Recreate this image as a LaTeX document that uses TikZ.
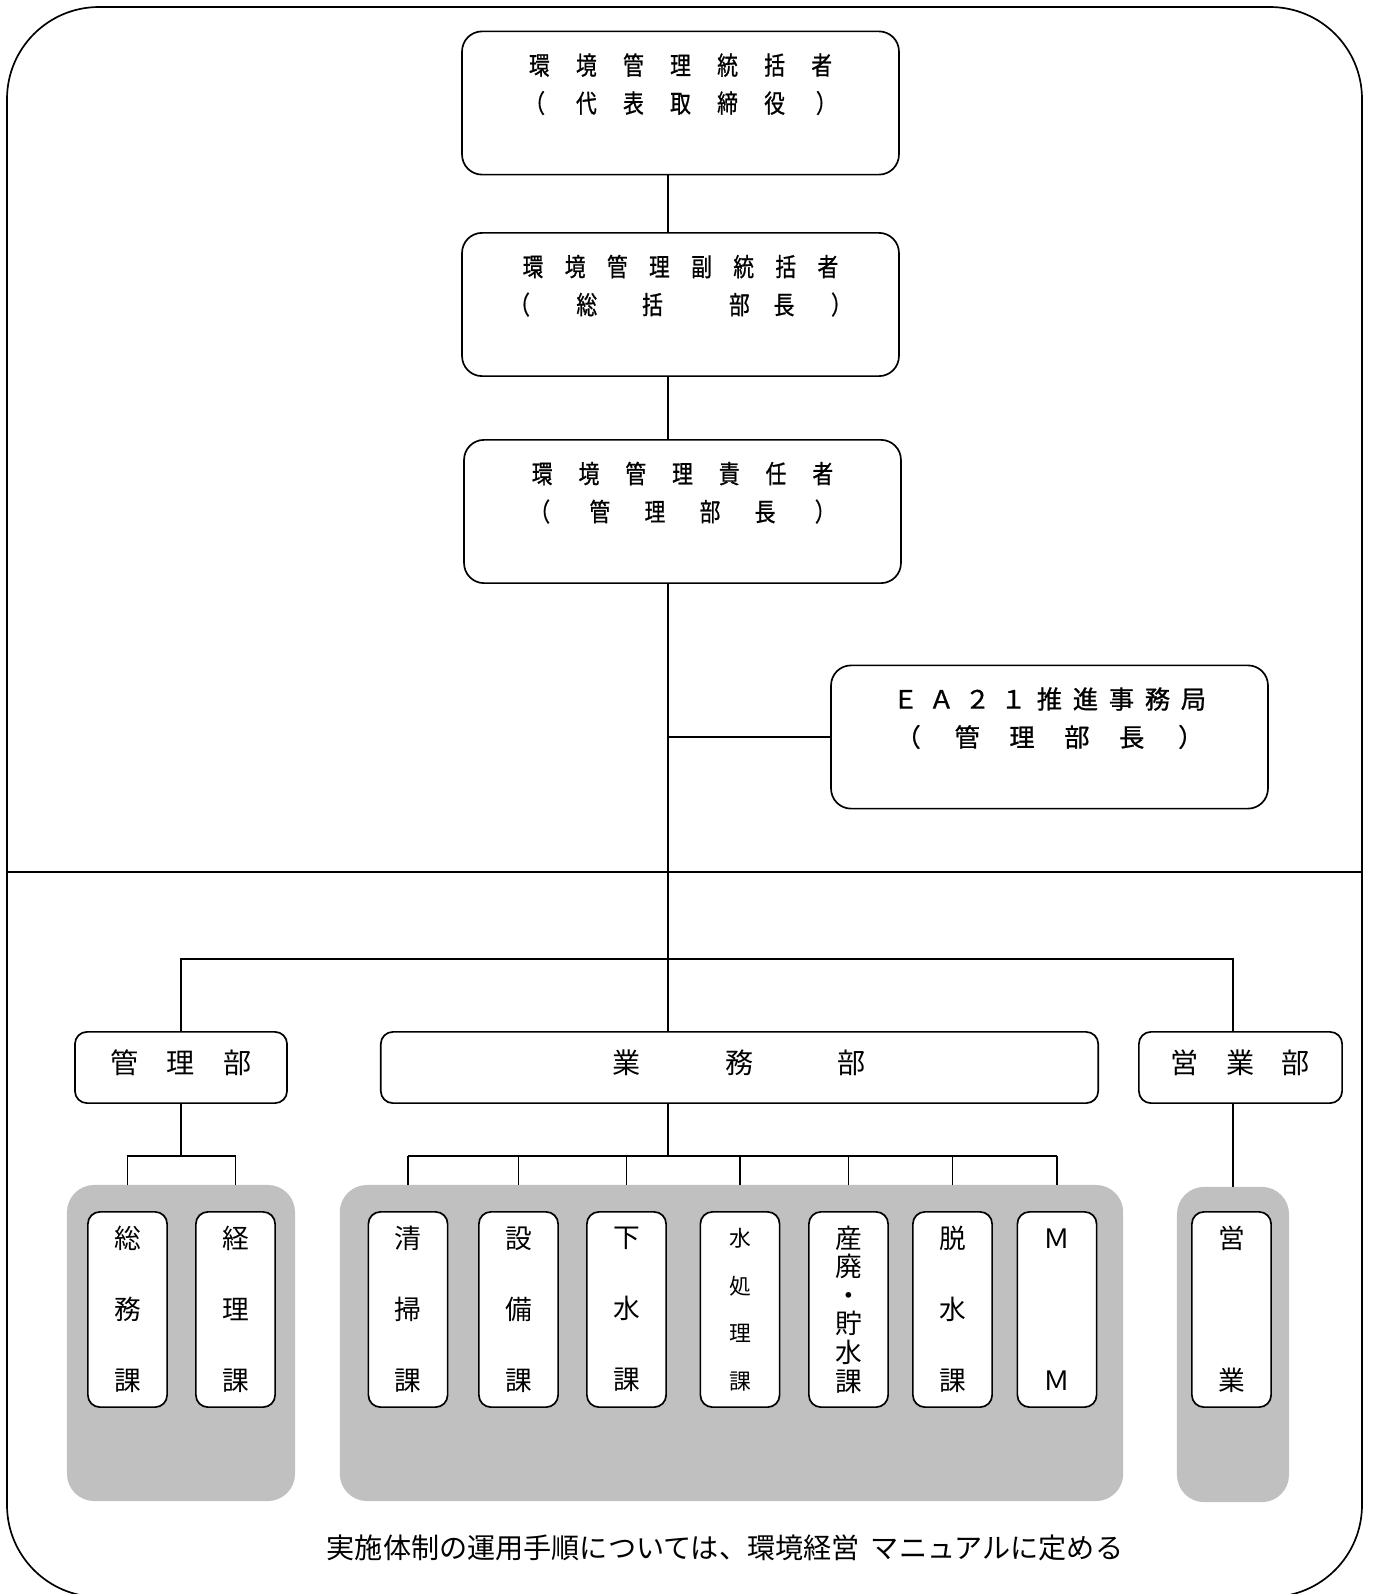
\documentclass[tikz,border=0pt]{standalone}
\usepackage{fontspec}
\usepackage{tikz}
\newfontfamily\jpfont{Noto Sans CJK JP}
\newfontfamily\jpnarrow[FakeStretch=0.82, FakeBold=0.8]{Noto Sans CJK JP}
\newfontfamily\jpheavy[FakeBold=0.8]{Noto Sans CJK JP}
\definecolor{panelgray}{HTML}{C0C0C0}

\begin{document}
\begin{tikzpicture}[x=0.025cm, y=-0.025cm,
  topbox/.style={rectangle, draw, line width=1.2pt, rounded corners=0.5cm, minimum width=10.92cm, minimum height=3.58cm},
  toptext/.style={anchor=north, inner xsep=0pt, inner ysep=16pt, align=center, font=\jpnarrow\fontsize{18}{27}\selectfont},
  eatext/.style={toptext, font=\jpheavy\fontsize{18}{27}\selectfont},
  deptbox/.style={rectangle, draw, line width=1.2pt, rounded corners=0.3cm, minimum height=1.78cm, text depth=8pt, font=\jpfont\fontsize{20}{24}\selectfont},
  unitbox/.style={rectangle, draw, fill=white, line width=1.2pt, rounded corners=0.3cm, minimum width=1.98cm, minimum height=4.88cm, inner sep=0pt, align=center, font=\jpfont\fontsize{19}{50.5}\selectfont},
  panel/.style={rectangle, fill=panelgray, rounded corners=0.68cm, inner sep=0pt},
  link/.style={line width=1pt}
]
  \useasboundingbox (0,0) rectangle (1373,1594);

  % frame and separator
  \draw[line width=1.2pt, rounded corners=2.3cm] (7,7) rectangle (1362,1597);
  \draw[link] (7,872) -- (1362,872);

  % top chain
  \node[topbox] (gen) at (680.5,103) {};
  \node[toptext] (gen-t) at (gen.north) {環\hspace{18.7pt}境\hspace{18.7pt}管\hspace{18.7pt}理\hspace{18.7pt}統\hspace{18.7pt}括\hspace{18.7pt}者\\
    （\hspace{22pt}代\hspace{18.7pt}表\hspace{18.7pt}取\hspace{18.7pt}締\hspace{18.7pt}役\hspace{22pt}）};
  \node[topbox] (vice) at (680.5,304.5) {};
  \node[toptext] (vice-t) at (vice.north) {環\hspace{15.2pt}境\hspace{15.2pt}管\hspace{15.2pt}理\hspace{15.2pt}副\hspace{15.2pt}統\hspace{15.2pt}括\hspace{15.2pt}者\\
    （\hspace{33pt}総\hspace{32pt}括\hspace{47pt}部\hspace{17pt}長\hspace{26pt}）};
  \node[topbox] (mgr) at (682.5,511.5) {};
  \node[toptext] (mgr-t) at (mgr.north) {環\hspace{18.5pt}境\hspace{18.5pt}管\hspace{18.5pt}理\hspace{18.5pt}責\hspace{18.5pt}任\hspace{18.5pt}者\\
    （\hspace{28pt}管\hspace{24.4pt}理\hspace{24.4pt}部\hspace{24.4pt}長\hspace{28pt}）};
  \node[topbox] (ea) at (1049.5,737) {};
  \node[eatext] (ea-t) at (ea.north) {Ｅ\hspace{7.6pt}Ａ\hspace{7.6pt}２\hspace{7.6pt}１\hspace{7.6pt}推\hspace{7.6pt}進\hspace{7.6pt}事\hspace{7.6pt}務\hspace{7.6pt}局\\
    （\hspace{24pt}管\hspace{21pt}理\hspace{21pt}部\hspace{21pt}長\hspace{24pt}）};

  % departments
  \node[deptbox, minimum width=5.3cm] (kanri) at (181,1067.5) {管\hspace{20pt}理\hspace{20pt}部};
  \node[deptbox, minimum width=17.93cm] (gyomu) at (739.5,1067.5) {業\hspace{60pt}務\hspace{60pt}部};
  \node[deptbox, minimum width=5.08cm] (eigyo) at (1240.5,1067.5) {営\hspace{19.5pt}業\hspace{19.5pt}部};

  % sections
  \node[panel, minimum width=5.7cm, minimum height=7.9cm] (p1) at (181,1343) {};
  \node[panel, minimum width=19.58cm, minimum height=7.9cm] (p2) at (731.5,1343) {};
  \node[panel, minimum width=2.8cm, minimum height=7.88cm] (p3) at (1233,1344.5) {};

  \node[unitbox] (soumu) at (127.5,1309.5) {総\\務\\課};
  \node[unitbox] (keiri) at (235.5,1309.5) {経\\理\\課};
  \node[unitbox] (seisou) at (408,1309.5) {清\\掃\\課};
  \node[unitbox] (setsubi) at (518.5,1309.5) {設\\備\\課};
  \node[unitbox] (gesui) at (626.5,1309.5) {下\\水\\課};
  \node[unitbox, font=\jpfont\fontsize{15.5}{33.8}\selectfont] (mizu) at (740,1309.5) {水\\処\\理\\課};
  \node[unitbox, font=\jpfont\fontsize{19}{20.3}\selectfont] (sanpai) at (848.5,1309.5) {産\\廃\\・\\貯\\水\\課};
  \node[unitbox] (dassui) at (952.5,1309.5) {脱\\水\\課};
  \node[unitbox, font=\jpfont\fontsize{19}{101}\selectfont] (mm) at (1057,1309.5) {Ｍ\\Ｍ};
  \node[unitbox, font=\jpfont\fontsize{19}{101}\selectfont] (eigyou) at (1231.5,1309.5) {営\\業};

  % connectors
  \coordinate (spine) at (668,0);
  \coordinate (dbar) at (668,959);
  \coordinate (kbar) at (181,1156);
  \coordinate (gbar) at (668,1156);
  \draw[link] (gen.south -| spine) -- (vice.north -| spine);
  \draw[link] (vice.south -| spine) -- (mgr.north -| spine);
  \draw[link] (mgr.south -| spine) -- (gyomu.north -| spine);
  \draw[link] (ea.west) -- (ea.west -| spine);
  \draw[link] (kanri.north) |- (dbar) -| (eigyo.north -| p3.north);
  \draw[link] (kanri.south) -- (kbar);
  \draw[link] (soumu.north |- p1.north) |- (kbar) -| (keiri.north |- p1.north);
  \draw[link] (gyomu.south -| spine) -- (gbar);
  \draw[link] (seisou.north |- gbar) -- (mm.north |- gbar);
  \foreach \u in {seisou,setsubi,gesui,mizu,sanpai,dassui,mm}
    \draw[link] (\u.north |- gbar) -- (\u.north |- p2.north);
  \draw[link] (eigyo.south -| p3.north) -- (p3.north);

  \node[font=\jpfont\fontsize{20}{24}\selectfont] (note) at (725,1548) {実施体制の運用手順については、環境経営\hspace{0.4em}マニュアルに定める};
\end{tikzpicture}
\end{document}
